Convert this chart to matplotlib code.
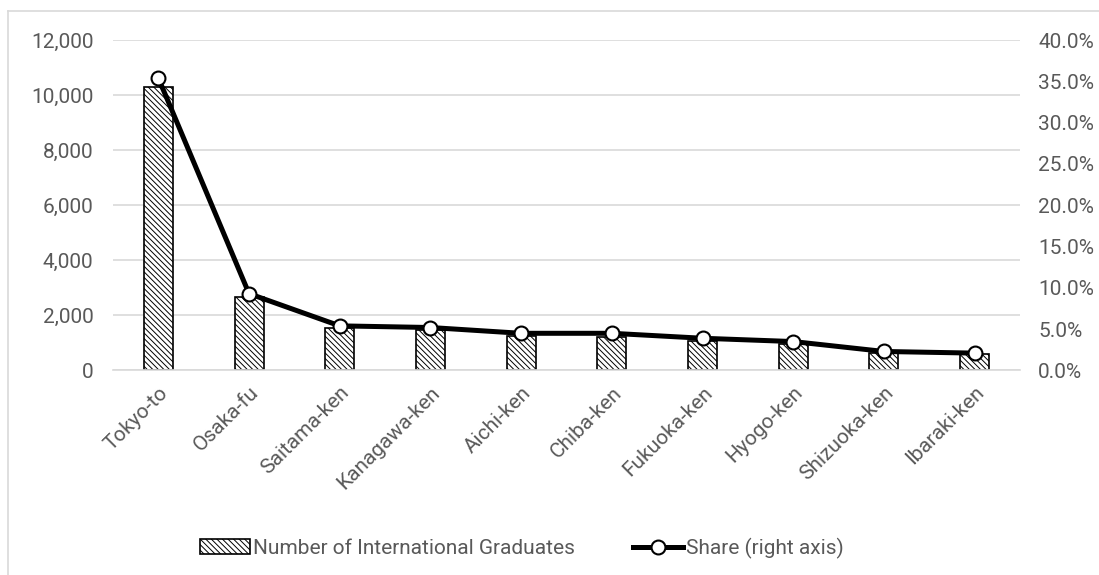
import matplotlib
matplotlib.use('Agg')
import matplotlib.pyplot as plt
from matplotlib.lines import Line2D
from matplotlib.patches import Rectangle
from matplotlib.ticker import FuncFormatter

plt.rcParams['font.family'] = ['Roboto', 'DejaVu Sans']
plt.rcParams['hatch.linewidth'] = 0.7

prefectures = ['Tokyo-to', 'Osaka-fu', 'Saitama-ken', 'Kanagawa-ken', 'Aichi-ken',
               'Chiba-ken', 'Fukuoka-ken', 'Hyogo-ken', 'Shizuoka-ken', 'Ibaraki-ken']
graduates = [10280, 2660, 1545, 1460, 1240, 1215, 1085, 965, 640, 610]
share_pct = [35.4, 9.3, 5.4, 5.2, 4.5, 4.5, 3.9, 3.5, 2.3, 2.1]

text_color = '#595959'
grid_color = '#d9d9d9'
bar_hatch = '\\\\\\\\\\\\'

fig = plt.figure(figsize=(10.99, 5.75), dpi=100)
ax = fig.add_axes([0.1028, 0.3557, 0.8253, 0.5747])

# 外框 (左、上)
fig.add_artist(Line2D([0.0073, 0.0073], [0, 0.981], color=grid_color, lw=1.2,
                      transform=fig.transFigure))
fig.add_artist(Line2D([0.0073, 1.0], [0.981, 0.981], color=grid_color, lw=1.2,
                      transform=fig.transFigure))

x = list(range(len(prefectures)))
ax.bar(x, graduates, width=0.32, color='white', edgecolor='black', linewidth=1.2,
       hatch=bar_hatch, zorder=2, label='Number of International Graduates')
ax.set_xlim(-0.5, len(prefectures) - 0.5)
ax.set_ylim(0, 12000)
ax.set_yticks(range(0, 12001, 2000))
ax.yaxis.set_major_formatter(FuncFormatter(lambda v, p: f'{int(v):,}'))
ax.grid(axis='y', color=grid_color, lw=1.2, zorder=0)
ax.set_axisbelow(True)
for s in ['top', 'right', 'left']:
    ax.spines[s].set_visible(False)
ax.spines['bottom'].set_color(grid_color)
ax.spines['bottom'].set_linewidth(1.2)
ax.tick_params(axis='both', length=0, labelsize=15, colors=text_color)
ax.tick_params(axis='y', pad=14)
ax.set_xticks(x)
ax.set_xticklabels(prefectures, rotation=45, ha='right', rotation_mode='anchor')
ax.tick_params(axis='x', pad=9)

# 右轴: 占比
ax2 = ax.twinx()
ax2.plot(x, share_pct, color='black', lw=3.6, marker='o', ms=10,
         mfc='white', mec='black', mew=1.5, zorder=3, label='Share (right axis)')
ax2.set_ylim(0, 40)
ax2.set_yticks(range(0, 41, 5))
ax2.yaxis.set_major_formatter(FuncFormatter(lambda v, p: f'{v:.1f}%'))
ax2.tick_params(axis='y', length=0, labelsize=15, colors=text_color, pad=13)
for s in ax2.spines.values():
    s.set_visible(False)

handles = [Rectangle((0, 0), 1, 1, facecolor='white', edgecolor='black', lw=1.2,
                     hatch=bar_hatch),
           Line2D([], [], color='black', lw=3.6, marker='o', ms=10,
                  mfc='white', mec='black', mew=1.5)]
fig.legend(handles, ['Number of International Graduates', 'Share (right axis)'],
           loc='center', bbox_to_anchor=(0.475, 0.047), ncol=2, frameon=False,
           fontsize=15, labelcolor=text_color, handlelength=2.4, handletextpad=0.15,
           columnspacing=2.8)

fig.savefig('out.png', dpi=100)
